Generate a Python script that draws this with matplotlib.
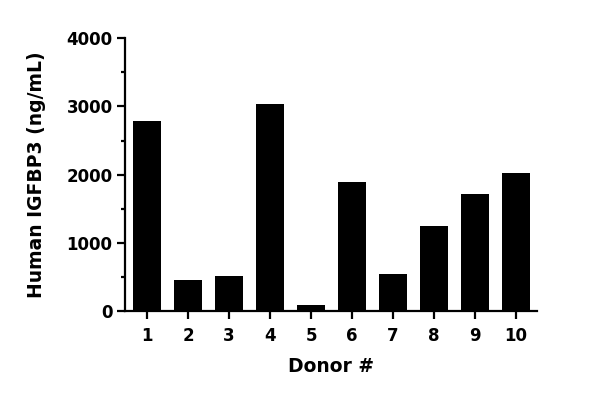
import numpy as np
import matplotlib
matplotlib.use('Agg')
import matplotlib.pyplot as plt
from matplotlib.ticker import MultipleLocator

donors = ['1', '2', '3', '4', '5', '6', '7', '8', '9', '10']
igfbp3 = [2787, 455, 513, 3037, 88, 1892, 543, 1247, 1716, 2024]

fig = plt.figure(figsize=(6, 3.97), dpi=100)
ax = fig.add_axes([0.208, 0.2166, 0.687, 0.687])

x = np.arange(1, len(donors) + 1)
ax.bar(x, igfbp3, width=0.68, color='black')

ax.set_xlim(0.46, 10.51)
ax.set_ylim(0, 4000)
ax.set_xticks(x)
ax.set_xticklabels(donors)
ax.yaxis.set_major_locator(MultipleLocator(1000))
ax.yaxis.set_minor_locator(MultipleLocator(500))

for s in ['top', 'right']:
    ax.spines[s].set_visible(False)
for s in ['left', 'bottom']:
    ax.spines[s].set_linewidth(1.6)

ax.tick_params(axis='both', which='major', length=5.8, width=1.6, labelsize=12)
ax.tick_params(axis='x', pad=6)
ax.tick_params(axis='y', pad=3)
ax.tick_params(axis='y', which='minor', length=3, width=1.6)
for lab in ax.get_xticklabels() + ax.get_yticklabels():
    lab.set_fontweight('bold')

ax.set_xlabel('Donor #', fontsize=13.5, fontweight='bold', labelpad=8)
ax.set_ylabel('Human IGFBP3 (ng/mL)', fontsize=13.5, fontweight='bold', labelpad=15)

fig.savefig('out.png', dpi=100)
